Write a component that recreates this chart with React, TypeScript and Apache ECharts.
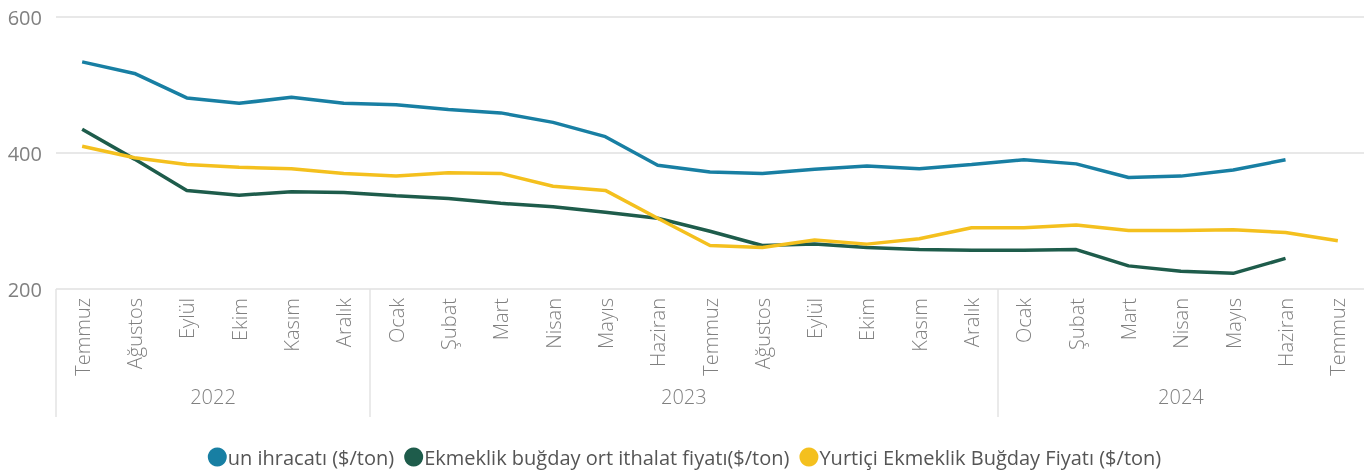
import React, { useEffect, useRef } from "react";
import * as echarts from "echarts";

const months = [
  "Temmuz", "Ağustos", "Eylül", "Ekim", "Kasım", "Aralık",
  "Ocak", "Şubat", "Mart", "Nisan", "Mayıs", "Haziran",
  "Temmuz", "Ağustos", "Eylül", "Ekim", "Kasım", "Aralık",
  "Ocak", "Şubat", "Mart", "Nisan", "Mayıs", "Haziran", "Temmuz",
];

const years = ["2022", "2023", "2024"];
const yearStarts = [0, 6, 18];
const yearEnds = [6, 18, 25];

const seriesNames = [
  "un ihracatı ($/ton)",
  "Ekmeklik buğday ort ithalat fiyatı($/ton)",
  "Yurtiçi Ekmeklik Buğday Fiyatı ($/ton)",
];

const unIhracati = [
  534, 517, 481, 473, 482, 473, 471, 464, 459, 445, 424, 382,
  372, 370, 376, 381, 377, 383, 390, 384, 364, 366, 375, 390, null,
];
const ithalat = [
  435, 391, 345, 338, 343, 342, 337, 333, 326, 321, 313, 304,
  285, 264, 266, 261, 258, 257, 257, 258, 234, 226, 223, 245, null,
];
const yurtici = [
  410, 393, 383, 379, 377, 370, 366, 371, 370, 351, 345, 304,
  264, 261, 272, 266, 274, 290, 290, 294, 286, 286, 287, 283, 271,
];

const colors = ["#187FA3", "#1E5C4B", "#F4C01E"];
const FONT = "'Open Sans', 'Noto Sans', sans-serif";

export default function App() {
  const ref = useRef<HTMLDivElement>(null);

  useEffect(() => {
    if (!ref.current) return;
    const chart = echarts.init(ref.current, undefined, { renderer: "svg" });
    const yearMid = years.map((_, i) => (yearStarts[i] + yearEnds[i]) / 2);
    chart.setOption({
      animation: false,
      color: colors,
      textStyle: { fontFamily: FONT },
      grid: { left: 56, right: 5, top: 17, bottom: 184, containLabel: false },
      legend: {
        bottom: 1,
        left: "center",
        icon: "circle",
        itemWidth: 19,
        itemHeight: 19,
        itemGap: 10,
        textStyle: { fontFamily: FONT, fontSize: 20, color: "#555", padding: [0, 0, 0, -4] },
        data: seriesNames,
      },
      xAxis: [
        {
          type: "category",
          data: months,
          boundaryGap: true,
          axisLine: { show: false },
          axisTick: { show: false },
          axisLabel: {
            rotate: 90,
            interval: 0,
            margin: 9,
            fontSize: 20,
            fontWeight: 300,
            color: "#808080",
            fontFamily: FONT,
          },
        },
        {
          type: "value",
          min: 0,
          max: months.length,
          position: "bottom",
          axisLine: { show: false },
          splitLine: { show: false },
          axisTick: {
            show: true,
            customValues: yearStarts,
            length: 128,
            lineStyle: { color: "#e3e3e3", width: 1.5 },
          },
          axisLabel: {
            customValues: yearMid,
            margin: 97,
            fontSize: 20,
            fontWeight: 300,
            color: "#808080",
            fontFamily: FONT,
            formatter: (v: number) => {
              const i = yearMid.indexOf(v);
              return i >= 0 ? years[i] : "";
            },
          },
        },
      ],
      yAxis: {
        type: "value",
        min: 200,
        max: 600,
        interval: 200,
        axisLine: { show: false },
        axisTick: { show: false },
        axisLabel: { fontSize: 20, color: "#808080", margin: 14, fontFamily: FONT },
        splitLine: { lineStyle: { color: "#e8e8e8", width: 2 } },
      },
      series: [
        { name: seriesNames[0], data: unIhracati },
        { name: seriesNames[1], data: ithalat },
        { name: seriesNames[2], data: yurtici },
      ].map((s) => ({
        ...s,
        type: "line",
        xAxisIndex: 0,
        showSymbol: false,
        symbol: "none",
        connectNulls: false,
        lineStyle: { width: 3.5 },
      })),
    });
    return () => chart.dispose();
  }, []);

  return (
    <div
      ref={ref}
      style={{ position: "fixed", left: 0, top: 0, width: 1369, height: 473 }}
    />
  );
}
